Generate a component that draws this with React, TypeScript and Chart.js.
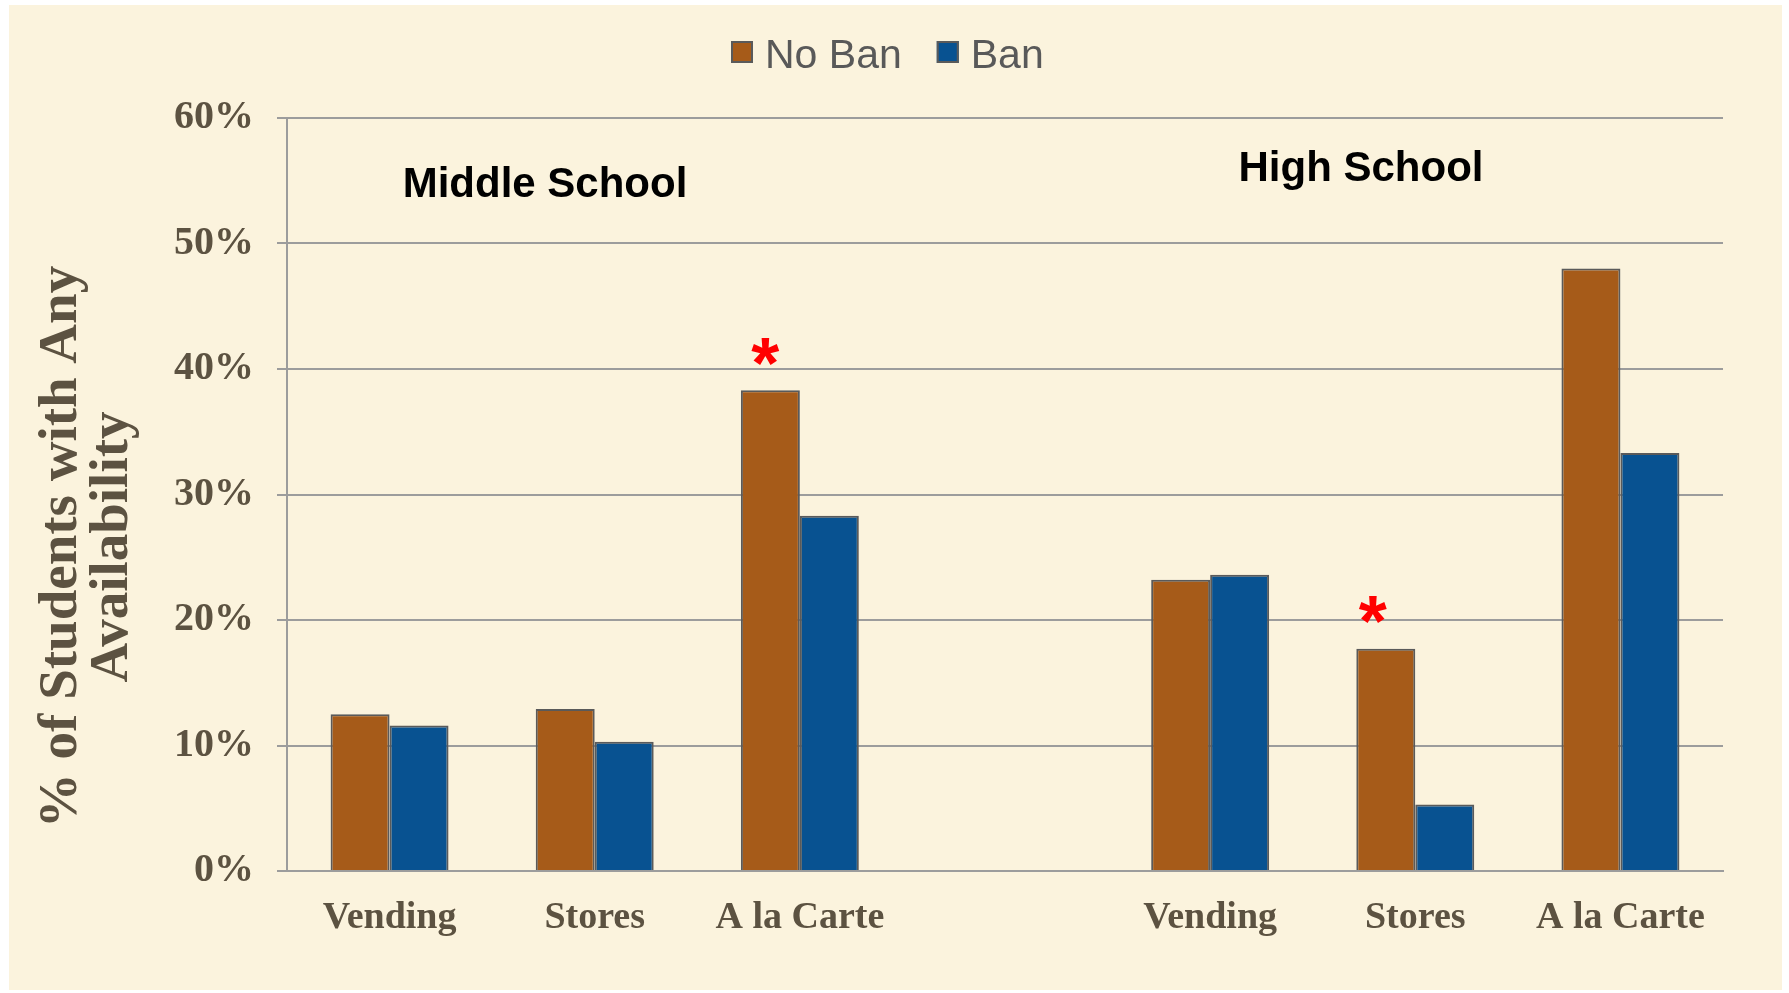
import React, { useEffect, useRef } from "react";
import { Chart, registerables } from "chart.js";

Chart.register(...registerables);

// Categories along the x axis (the blank slot separates the two school levels)
const categories = ["Vending", "Stores", "A la Carte", "", "Vending", "Stores", "A la Carte"];
// Percent of students with any availability
const noBanValues: (number | null)[] = [12.5, 12.9, 38.3, null, 23.2, 17.7, 48.0];
const banValues: (number | null)[] = [11.6, 10.3, 28.3, null, 23.6, 5.3, 33.3];
const seriesNames = ["No Ban", "Ban"];
const yTickValues = [0, 10, 20, 30, 40, 50, 60];
const groupTitles = ["Middle School", "High School"];
const yTitleLines = ["% of Students with Any", "Availability"];
// Bars flagged as significant (index into categories, No Ban series)
const significantIndices = [2, 5];

const WIDTH = 1789;
const HEIGHT = 993;
const CREAM = "#FBF3DD";
const NO_BAN_COLOR = "#A65B19";
const BAN_COLOR = "#085291";
const BAR_BORDER = "#5A5A5A";
const GRID_COLOR = "#9C9C9C";
const AXIS_TEXT = "#5C5241";
const LEGEND_TEXT = "#595959";
const SERIF = '"Liberation Serif", "Times New Roman", serif';
const SANS = '"Liberation Sans", Arial, sans-serif';

const decorations = {
  id: "decorations",
  afterDraw(chart: Chart) {
    const ctx = chart.ctx;
    ctx.save();

    // Legend
    ctx.font = `41px ${SANS}`;
    ctx.textAlign = "left";
    ctx.textBaseline = "alphabetic";
    let lx = 731;
    const colors = [NO_BAN_COLOR, BAN_COLOR];
    seriesNames.forEach((name, i) => {
      ctx.fillStyle = colors[i];
      ctx.fillRect(lx, 41, 22, 22);
      ctx.strokeStyle = BAR_BORDER;
      ctx.lineWidth = 2;
      ctx.strokeRect(lx + 1, 42, 20, 20);
      ctx.fillStyle = LEGEND_TEXT;
      ctx.fillText(name, lx + 34, 68);
      lx += 34 + ctx.measureText(name).width + 35;
    });

    // Group titles
    ctx.font = `bold 42px ${SANS}`;
    ctx.fillStyle = "#000000";
    ctx.textAlign = "center";
    ctx.fillText(groupTitles[0], 545, 197);
    ctx.fillText(groupTitles[1], 1361, 181);

    // Rotated y-axis title
    ctx.font = `bold 55px ${SERIF}`;
    ctx.fillStyle = AXIS_TEXT;
    const baselines = [76, 127];
    yTitleLines.forEach((line, i) => {
      ctx.save();
      ctx.translate(baselines[i], 547);
      ctx.rotate(-Math.PI / 2);
      ctx.textAlign = "center";
      ctx.fillText(line, 0, 0);
      ctx.restore();
    });

    // Significance asterisks above flagged bars
    const meta = chart.getDatasetMeta(0);
    const starDx = [-5, -13];
    ctx.font = `bold 72px ${SANS}`;
    ctx.fillStyle = "#FF0000";
    ctx.textAlign = "left";
    ctx.textBaseline = "alphabetic";
    significantIndices.forEach((idx, k) => {
      const bar: any = meta.data[idx];
      if (!bar) return;
      const m = ctx.measureText("*");
      const w = m.actualBoundingBoxLeft + m.actualBoundingBoxRight;
      const h = m.actualBoundingBoxAscent + m.actualBoundingBoxDescent;
      const cx = bar.x + starDx[k];
      const cy = bar.y - 39;
      ctx.fillText("*", cx - w / 2 + m.actualBoundingBoxLeft, cy - h / 2 + m.actualBoundingBoxAscent);
    });

    ctx.restore();
  },
};

export default function App() {
  const canvasRef = useRef<HTMLCanvasElement | null>(null);

  useEffect(() => {
    if (!canvasRef.current) return;
    const chart = new Chart(canvasRef.current, {
      type: "bar",
      data: {
        labels: categories,
        datasets: [
          {
            label: seriesNames[0],
            data: noBanValues,
            backgroundColor: NO_BAN_COLOR,
            borderColor: BAR_BORDER,
            borderWidth: 2,
          },
          {
            label: seriesNames[1],
            data: banValues,
            backgroundColor: BAN_COLOR,
            borderColor: BAR_BORDER,
            borderWidth: 2,
          },
        ],
      },
      options: {
        responsive: false,
        animation: false,
        devicePixelRatio: 1,
        layout: { padding: { left: 0, top: 118, right: 66, bottom: 0 } },
        datasets: {
          bar: { categoryPercentage: 0.575, barPercentage: 1 },
        },
        plugins: {
          legend: { display: false },
          tooltip: { enabled: false },
          title: { display: false },
        },
        scales: {
          x: {
            grid: { display: false, drawTicks: false },
            border: { display: true, color: GRID_COLOR, width: 2 },
            ticks: {
              color: AXIS_TEXT,
              font: { family: SERIF, size: 38, weight: "bold" },
              padding: 24,
              maxRotation: 0,
              autoSkip: false,
            },
            afterFit: (scale: any) => {
              scale.height = 122;
            },
          },
          y: {
            min: 0,
            max: 60,
            afterBuildTicks: (scale: any) => {
              scale.ticks = yTickValues.map((v) => ({ value: v }));
            },
            grid: { color: GRID_COLOR, lineWidth: 2, tickLength: 10, drawTicks: true },
            border: { display: true, color: GRID_COLOR, width: 2 },
            ticks: {
              color: AXIS_TEXT,
              font: { family: SERIF, size: 40, weight: "bold" },
              padding: 23,
              callback: (v: any) => `${v}%`,
            },
            afterFit: (scale: any) => {
              scale.width = 287;
            },
          },
        },
      },
      plugins: [decorations],
    });
    return () => chart.destroy();
  }, []);

  return (
    <div
      style={{
        position: "fixed",
        left: 0,
        top: 0,
        width: WIDTH,
        height: HEIGHT,
        background: "#FFFFFF",
        overflow: "hidden",
      }}
    >
      <div
        style={{
          position: "absolute",
          left: 9,
          top: 5,
          width: 1773,
          height: 985,
          background: CREAM,
        }}
      />
      <canvas
        ref={canvasRef}
        width={WIDTH}
        height={HEIGHT}
        style={{ position: "absolute", left: 0, top: 0, width: WIDTH, height: HEIGHT }}
      />
    </div>
  );
}
